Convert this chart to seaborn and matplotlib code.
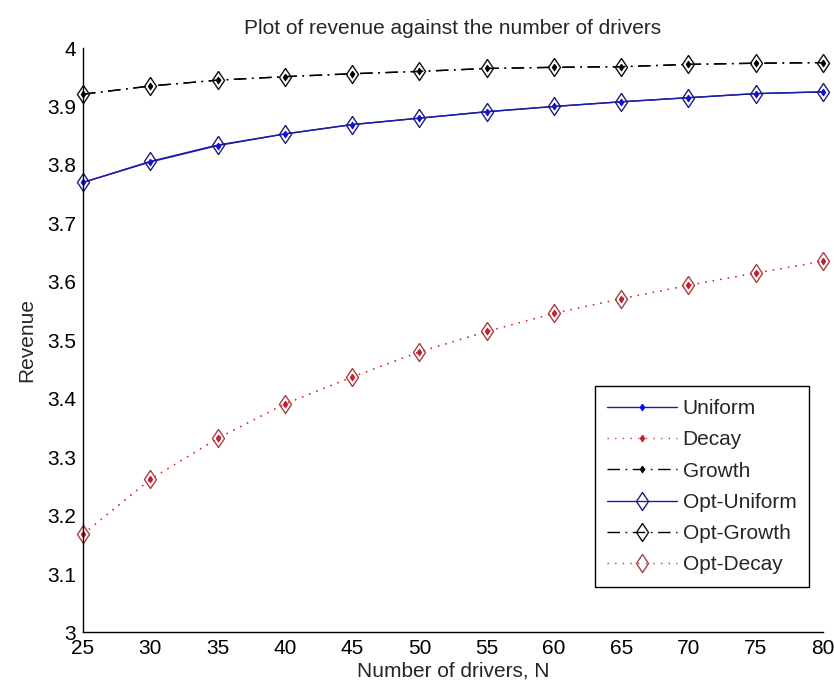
import numpy as np
import pandas as pd
import matplotlib
matplotlib.use("Agg")
import matplotlib.pyplot as plt
import seaborn as sns

N = [25, 30, 35, 40, 45, 50, 55, 60, 65, 70, 75, 80]
uniform = [3.770, 3.805, 3.833, 3.853, 3.869, 3.880, 3.891, 3.900, 3.908, 3.915, 3.922, 3.925]
decay = [3.168, 3.262, 3.332, 3.391, 3.437, 3.480, 3.515, 3.546, 3.571, 3.594, 3.615, 3.635]
growth = [3.921, 3.935, 3.945, 3.951, 3.956, 3.960, 3.965, 3.967, 3.968, 3.972, 3.974, 3.975]
opt_uniform = [3.770, 3.806, 3.834, 3.853, 3.869, 3.880, 3.891, 3.900, 3.908, 3.915, 3.922, 3.925]
opt_growth = [3.921, 3.935, 3.945, 3.951, 3.956, 3.960, 3.965, 3.967, 3.968, 3.972, 3.974, 3.975]
opt_decay = [3.168, 3.262, 3.332, 3.391, 3.437, 3.480, 3.515, 3.546, 3.571, 3.594, 3.615, 3.635]

x_ticks = [25, 30, 35, 40, 45, 50, 55, 60, 65, 70, 75, 80]
y_ticks = [3.0, 3.1, 3.2, 3.3, 3.4, 3.5, 3.6, 3.7, 3.8, 3.9, 4.0]
y_labels = ["3", "3.1", "3.2", "3.3", "3.4", "3.5", "3.6", "3.7", "3.8", "3.9", "4"]

sns.set_style("white")
plt.rcParams['font.family'] = ['Liberation Sans', 'DejaVu Sans']

FS = 15

fig = plt.figure(figsize=(8.34, 6.91), dpi=100)
ax = fig.add_axes([0.0995, 0.0847, 0.8873, 0.8458])

BLUE_LINE = "#1c1ca8"
BLUE_MK = "#0a0af0"
RED = "#e03030"
BLACK = "#000000"

diamond = [(0, 1), (0.67, 0), (0, -1), (-0.67, 0), (0, 1)]

DOT = (0, (1, 4.5))
DASHDOT = (0, (9, 4, 1.2, 4))

series = [
    ("Uniform", uniform, BLUE_LINE, "-", BLUE_MK, 5, True),
    ("Decay", decay, RED, DOT, "#c02030", 5, True),
    ("Growth", growth, BLACK, DASHDOT, BLACK, 5, True),
    ("Opt-Uniform", opt_uniform, BLUE_LINE, "-", "#202070", 13, False),
    ("Opt-Growth", opt_growth, BLACK, DASHDOT, "#101010", 13, False),
    ("Opt-Decay", opt_decay, RED, DOT, "#a84040", 13, False),
]

for name, vals, col, ls, mcol, ms, filled in series:
    df = pd.DataFrame({"N": N, "Revenue": vals})
    sns.lineplot(data=df, x="N", y="Revenue", ax=ax, color=col, linestyle=ls,
                 linewidth=1.0, marker=diamond, markersize=ms,
                 markerfacecolor=(mcol if filled else "none"),
                 markeredgecolor=mcol, markeredgewidth=(0.6 if filled else 1.0),
                 label=name, clip_on=False)

ax.set_xlim(25, 80)
ax.set_ylim(3, 4)
ax.set_xticks(x_ticks)
ax.set_xticklabels([str(v) for v in x_ticks])
ax.set_yticks(y_ticks)
ax.set_yticklabels(y_labels)
ax.tick_params(direction="in", length=6, width=1, labelsize=FS, pad=5, colors="black")
for s in ["top", "right"]:
    ax.spines[s].set_visible(False)
for s in ["left", "bottom"]:
    ax.spines[s].set_color("black")
    ax.spines[s].set_linewidth(1.0)

ax.set_xlabel("Number of drivers, N", fontsize=FS, labelpad=2)
ax.set_ylabel("Revenue", fontsize=FS, labelpad=8)
ax.set_title("Plot of revenue against the number of drivers", fontsize=FS, pad=10)

leg = ax.legend(loc="lower right", bbox_to_anchor=(0.981, 0.078), borderaxespad=0,
                fontsize=FS, frameon=True, fancybox=False, edgecolor="black", framealpha=1,
                handlelength=3.37, labelspacing=0.59, borderpad=0.6, handletextpad=0.25)
leg.get_frame().set_linewidth(1.0)

fig.savefig("out.png", dpi=100, facecolor="white")
